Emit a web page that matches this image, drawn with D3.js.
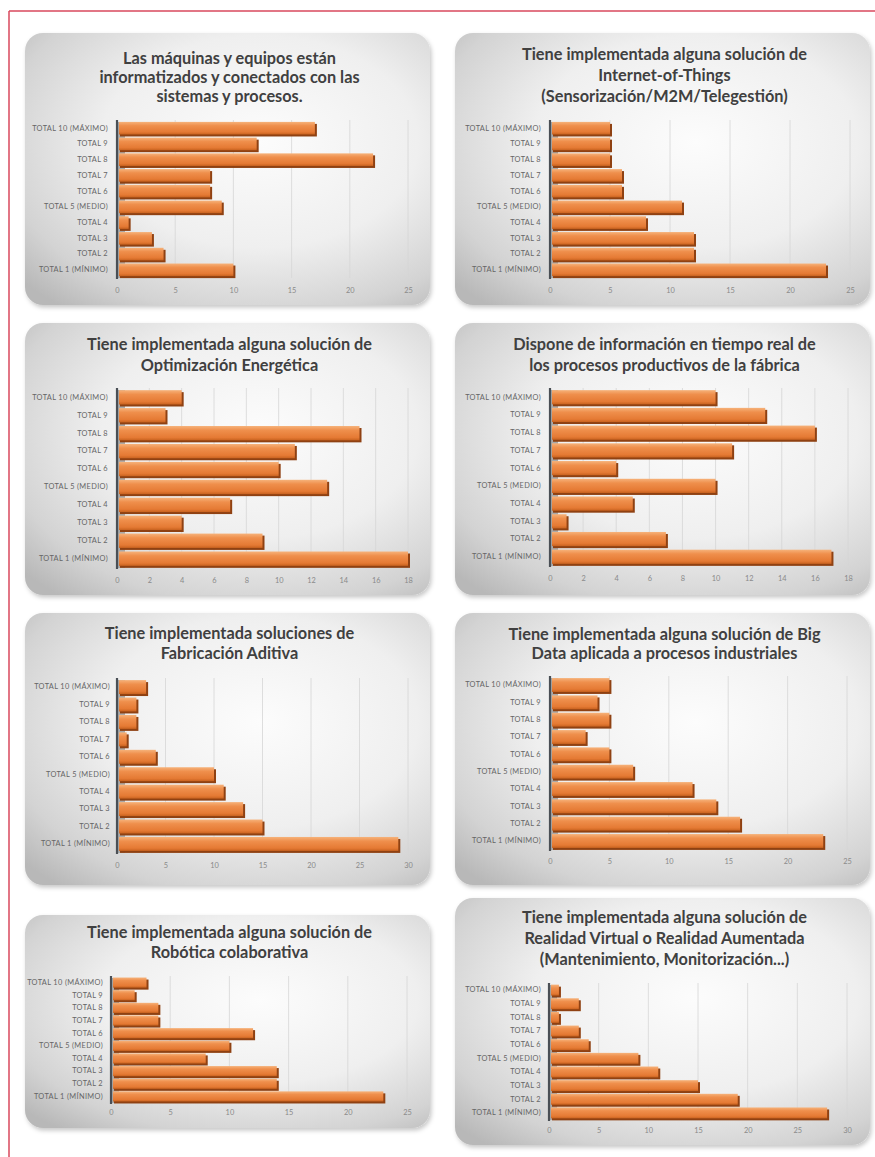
<!DOCTYPE html>
<html>
<head>
<meta charset="utf-8">
<script src="https://cdn.jsdelivr.net/npm/d3@7"></script>
<style>
  html, body { margin: 0; padding: 0; background: #ffffff; }
  svg { display: block; }
</style>
</head>
<body>
<svg id="chart" width="875" height="1157"></svg>
<script>
// ---------- DATA ----------
const categories = ["TOTAL 1 (MÍNIMO)", "TOTAL 2", "TOTAL 3", "TOTAL 4", "TOTAL 5 (MEDIO)",
                    "TOTAL 6", "TOTAL 7", "TOTAL 8", "TOTAL 9", "TOTAL 10 (MÁXIMO)"];

const title1 = ["Las máquinas y equipos están", "informatizados y conectados con las", "sistemas y procesos."];
const title2 = ["Tiene implementada alguna solución de", "Internet-of-Things", "(Sensorización/M2M/Telegestión)"];
const title3 = ["Tiene implementada alguna solución de", "Optimización Energética"];
const title4 = ["Dispone de información en tiempo real de", "los procesos productivos de la fábrica"];
const title5 = ["Tiene implementada soluciones de", "Fabricación Aditiva"];
const title6 = ["Tiene implementada alguna solución de Big", "Data aplicada a procesos industriales"];
const title7 = ["Tiene implementada alguna solución de", "Robótica colaborativa"];
const title8 = ["Tiene implementada alguna solución de", "Realidad Virtual o Realidad Aumentada", "(Mantenimiento, Monitorización...)"];

// values in category order (TOTAL 1 ... TOTAL 10)
const values1 = [10, 4, 3, 1, 9, 8, 8, 22, 12, 17];
const values2 = [23, 12, 12, 8, 11, 6, 6, 5, 5, 5];
const values3 = [18, 9, 4, 7, 13, 10, 11, 15, 3, 4];
const values4 = [17, 7, 1, 5, 10, 4, 11, 16, 13, 10];
const values5 = [29, 15, 13, 11, 10, 4, 1, 2, 2, 3];
const values6 = [23, 16, 14, 12, 7, 5, 3, 5, 4, 5];
const values7 = [23, 14, 14, 8, 10, 12, 4, 4, 2, 3];
const values8 = [28, 19, 15, 11, 9, 4, 3, 1, 3, 1];

const ticks1 = [0, 5, 10, 15, 20, 25];
const ticks2 = [0, 5, 10, 15, 20, 25];
const ticks3 = [0, 2, 4, 6, 8, 10, 12, 14, 16, 18];
const ticks4 = [0, 2, 4, 6, 8, 10, 12, 14, 16, 18];
const ticks5 = [0, 5, 10, 15, 20, 25, 30];
const ticks6 = [0, 5, 10, 15, 20, 25];
const ticks7 = [0, 5, 10, 15, 20, 25];
const ticks8 = [0, 5, 10, 15, 20, 25, 30];

// ---------- LAYOUT (positions only) ----------
const layout = [
  {box:[25, 33, 405, 272],  x:[117, 408], y:[120, 278], tickY:292,  labelX:108, titleY:[64, 83, 102]},
  {box:[455, 33, 415, 272], x:[550, 850], y:[120, 278], tickY:292,  labelX:541, titleY:[60, 81, 102]},
  {box:[25, 323, 405, 272], x:[117, 408], y:[388, 568], tickY:582,  labelX:108, titleY:[350, 371]},
  {box:[455, 323, 415, 272],x:[550, 848], y:[388, 566], tickY:580,  labelX:541, titleY:[350, 371]},
  {box:[25, 613, 405, 272], x:[117, 408], y:[678, 853], tickY:867,  labelX:110, titleY:[639, 659]},
  {box:[455, 613, 415, 272],x:[550, 847], y:[676, 850], tickY:863,  labelX:541, titleY:[640, 659]},
  {box:[25, 915, 405, 213], x:[111, 407], y:[976, 1103], tickY:1114, labelX:103, titleY:[938, 958]},
  {box:[455, 898, 415, 247],x:[549, 847], y:[983, 1120], tickY:1132, labelX:541, titleY:[923, 944, 965]}
];

const charts = [
  {title: title1, values: values1, ticks: ticks1},
  {title: title2, values: values2, ticks: ticks2},
  {title: title3, values: values3, ticks: ticks3},
  {title: title4, values: values4, ticks: ticks4},
  {title: title5, values: values5, ticks: ticks5},
  {title: title6, values: values6, ticks: ticks6},
  {title: title7, values: values7, ticks: ticks7},
  {title: title8, values: values8, ticks: ticks8}
];

// ---------- DRAW ----------
const svg = d3.select("#chart");
const defs = svg.append("defs");

const bg = defs.append("radialGradient").attr("id", "panelBg")
  .attr("cx", "58%").attr("cy", "40%").attr("r", "78%");
bg.append("stop").attr("offset", "0%").attr("stop-color", "#fcfcfc");
bg.append("stop").attr("offset", "50%").attr("stop-color", "#efefef");
bg.append("stop").attr("offset", "82%").attr("stop-color", "#d3d3d3");
bg.append("stop").attr("offset", "100%").attr("stop-color", "#b8b8b8");

const barGrad = defs.append("linearGradient").attr("id", "barGrad")
  .attr("x1", 0).attr("y1", 0).attr("x2", 0).attr("y2", 1);
barGrad.append("stop").attr("offset", "0%").attr("stop-color", "#f6b27a");
barGrad.append("stop").attr("offset", "30%").attr("stop-color", "#ef8f4c");
barGrad.append("stop").attr("offset", "80%").attr("stop-color", "#e57a34");
barGrad.append("stop").attr("offset", "100%").attr("stop-color", "#c8621f");

const shadow = defs.append("filter").attr("id", "shadow")
  .attr("x", "-5%").attr("y", "-5%").attr("width", "112%").attr("height", "115%");
shadow.append("feDropShadow").attr("dx", 1.5).attr("dy", 2.5).attr("stdDeviation", 2)
  .attr("flood-color", "#000").attr("flood-opacity", 0.22);

// page border (red)
svg.append("line").attr("x1", 9).attr("y1", 11).attr("x2", 875).attr("y2", 11)
  .attr("stroke", "#d9495c").attr("stroke-width", 1.5);
svg.append("line").attr("x1", 9).attr("y1", 11).attr("x2", 9).attr("y2", 1157)
  .attr("stroke", "#d9495c").attr("stroke-width", 1.5);

charts.forEach((c, i) => {
  const L = layout[i];
  const g = svg.append("g");
  const [bx, by, bw, bh] = L.box;

  g.append("rect").attr("x", bx).attr("y", by).attr("width", bw).attr("height", bh)
    .attr("rx", 18).attr("ry", 18).attr("fill", "url(#panelBg)")
    .attr("filter", "url(#shadow)");

  // title
  c.title.forEach((line, k) => {
    g.append("text").attr("x", bx + bw / 2 + 2).attr("y", L.titleY[k])
      .attr("text-anchor", "middle")
      .style("font-family", "Lato, 'Open Sans', sans-serif")
      .style("font-weight", "bold").style("font-size", "16.3px")
      .attr("fill", "#404040").text(line);
  });

  const xMax = c.ticks[c.ticks.length - 1];
  const x = d3.scaleLinear().domain([0, xMax]).range(L.x);
  const y = d3.scaleBand().domain(categories.slice().reverse())
    .range(L.y).paddingInner(0.2).paddingOuter(0.12);

  // gridlines
  g.append("g").selectAll("line").data(c.ticks.slice(1)).join("line")
    .attr("x1", d => x(d)).attr("x2", d => x(d))
    .attr("y1", L.y[0]).attr("y2", L.y[1])
    .attr("stroke", "#d6d6d6").attr("stroke-width", 0.8);

  // 3D wall strip
  g.append("rect").attr("x", L.x[0] + 1).attr("y", L.y[0] + 2)
    .attr("width", 7).attr("height", L.y[1] - L.y[0] - 2)
    .attr("fill", "#a9a9a9");

  // bars (depth + face)
  const bars = g.append("g").selectAll("g").data(categories.map((cat, j) => ({cat, v: c.values[j]}))).join("g");
  bars.append("rect")
    .attr("x", L.x[0] + 3).attr("y", d => y(d.cat) + 2)
    .attr("width", d => Math.max(0, x(d.v) - L.x[0] - 1))
    .attr("height", y.bandwidth())
    .attr("fill", "#8f4112");
  bars.append("rect")
    .attr("x", L.x[0] + 2).attr("y", d => y(d.cat))
    .attr("width", d => Math.max(0, x(d.v) - L.x[0] - 2))
    .attr("height", y.bandwidth())
    .attr("fill", "url(#barGrad)");

  // axis line
  g.append("line").attr("x1", L.x[0]).attr("x2", L.x[0])
    .attr("y1", L.y[0]).attr("y2", L.y[1] + 1)
    .attr("stroke", "#4a4f55").attr("stroke-width", 2.2);

  // category labels
  const yAxis = d3.axisLeft(y).tickSize(0).tickPadding(0);
  const ya = g.append("g").attr("transform", `translate(${L.labelX},0)`).call(yAxis);
  ya.select(".domain").remove();
  ya.selectAll("text")
    .style("font-family", "Lato, 'Open Sans', sans-serif")
    .style("font-size", "7.4px").style("letter-spacing", "0.35px")
    .attr("fill", "#666666");

  // x tick labels
  const xAxis = d3.axisBottom(x).tickValues(c.ticks).tickSize(0).tickPadding(0);
  const xa = g.append("g").attr("transform", `translate(0,${L.tickY - 4})`).call(xAxis);
  xa.select(".domain").remove();
  xa.selectAll("text")
    .style("font-family", "Lato, 'Open Sans', sans-serif")
    .style("font-size", "7.4px").attr("fill", "#8a8a8a");
});
</script>
</body>
</html>
